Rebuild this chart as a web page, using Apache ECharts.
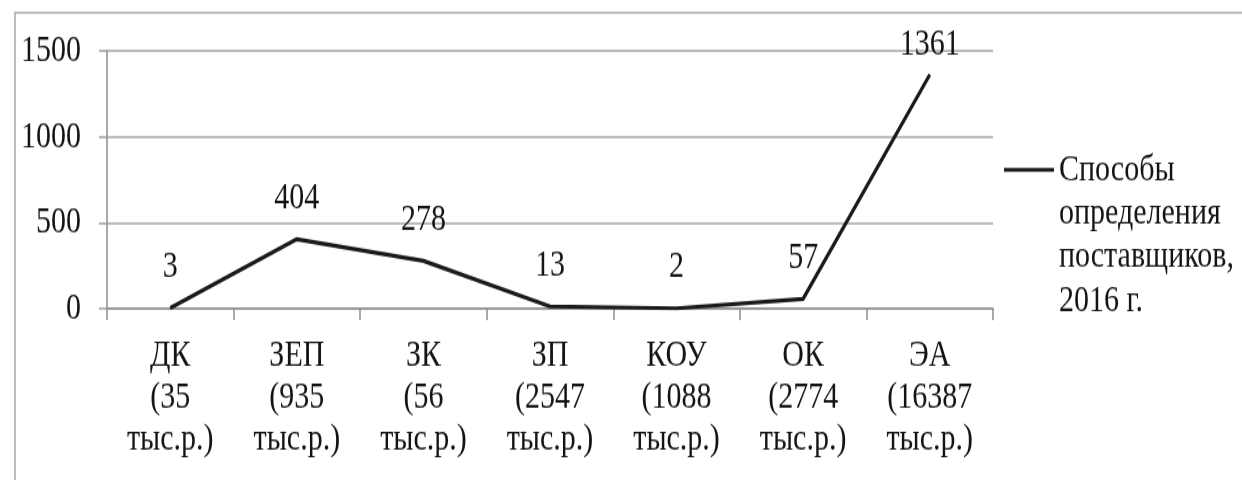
<!DOCTYPE html>
<html>
<head>
<meta charset="utf-8">
<script src="https://cdn.jsdelivr.net/npm/echarts@6/dist/echarts.min.js"></script>
<style>
  html, body { margin: 0; padding: 0; background: #fff; overflow: hidden; }
  #wrap { width: 1242px; height: 480px; overflow: hidden; }
  /* the chart is drawn on a shorter canvas and stretched vertically (tall, narrow type) */
  #chart { width: 1242px; height: 378px; transform: scaleY(1.27); transform-origin: 0 0; }
</style>
</head>
<body>
<div id="wrap"><div id="chart"></div></div>
<script>
// Procurement methods and their number of purchases, 2016
const categories = [
  'ДК\n(35\nтыс.р.)',
  'ЗЕП\n(935\nтыс.р.)',
  'ЗК\n(56\nтыс.р.)',
  'ЗП\n(2547\nтыс.р.)',
  'КОУ\n(1088\nтыс.р.)',
  'ОК\n(2774\nтыс.р.)',
  'ЭА\n(16387\nтыс.р.)'
];
const counts = [3, 404, 278, 13, 2, 57, 1361];
const seriesName = 'Способы\nопределения\nпоставщиков,\n2016 г.';
const yMin = 0;
const yMax = 1500;
const yStep = 500;

const FONT = '"Liberation Serif", "DejaVu Serif", serif';
const FS = 30;
const INK = '#141414';
const LH = 34.3;         // legend line height
const LEGEND_H = 4 * LH; // four lines of legend text

// legend key: a short bar level with the first text line; the two specks
// at the corners only fix the icon's bounding box to the full text height
const legendKey = 'path://M0,0H0.01V0.01H0Z M0,' + (LH / 2 - 1.6) + 'H50V' + (LH / 2 + 1.6) +
  'H0Z M49.99,' + (LEGEND_H - 0.01) + 'H50V' + LEGEND_H + 'H49.99Z';

const chart = echarts.init(document.getElementById('chart'), null, { renderer: 'canvas' });

// the tallest point keeps its label a little closer to the line
const peak = counts.indexOf(Math.max(...counts));
const seriesData = counts.map((v, i) =>
  i === peak ? { value: v, label: { distance: 8 } } : v
);

chart.setOption({
  backgroundColor: '#ffffff',
  animation: false,
  graphic: [{
    type: 'rect',
    silent: true,
    shape: { x: 15, y: 10, width: 1400, height: 600 },
    style: { fill: 'none', stroke: '#a8a8a8', lineWidth: 1.5 }
  }],
  grid: { left: 107, right: 249, top: 40, bottom: 135, containLabel: false },
  legend: {
    left: 999,
    top: 111.6,
    itemWidth: 50,
    itemHeight: LEGEND_H,
    itemGap: 0,
    itemStyle: { borderWidth: 0 },
    textStyle: { fontFamily: FONT, fontSize: FS, color: INK, lineHeight: LH },
    data: [{ name: seriesName, icon: legendKey }]
  },
  xAxis: {
    type: 'category',
    data: categories,
    boundaryGap: true,
    axisLine: { lineStyle: { color: '#8c8c8c', width: 1.5 } },
    axisTick: { show: true, length: 9, lineStyle: { color: '#8c8c8c', width: 1.5 } },
    axisLabel: {
      interval: 0, margin: 21, align: 'center',
      fontFamily: FONT, fontSize: FS, color: INK, lineHeight: 33
    },
    splitLine: { show: false }
  },
  yAxis: {
    type: 'value',
    min: yMin, max: yMax, interval: yStep,
    axisLine: { show: true, lineStyle: { color: '#8c8c8c', width: 1.5 } },
    axisTick: { show: true, length: 8, lineStyle: { color: '#a0a0a0', width: 1.5 } },
    axisLabel: {
      margin: 26, fontFamily: FONT, fontSize: FS, color: INK,
      formatter: v => String(v)
    },
    splitLine: { lineStyle: { color: '#a6a6a6', width: 1.5 } }
  },
  series: [{
    name: seriesName,
    type: 'line',
    data: seriesData,
    symbol: 'circle',
    symbolSize: 1,
    showSymbol: true,
    smooth: false,
    lineStyle: { color: '#1a1a1a', width: 3.2 },
    itemStyle: { color: '#1a1a1a' },
    label: {
      show: true, position: 'top', distance: 17,
      fontFamily: FONT, fontSize: FS, color: INK, lineHeight: 30
    }
  }]
});
</script>
</body>
</html>
